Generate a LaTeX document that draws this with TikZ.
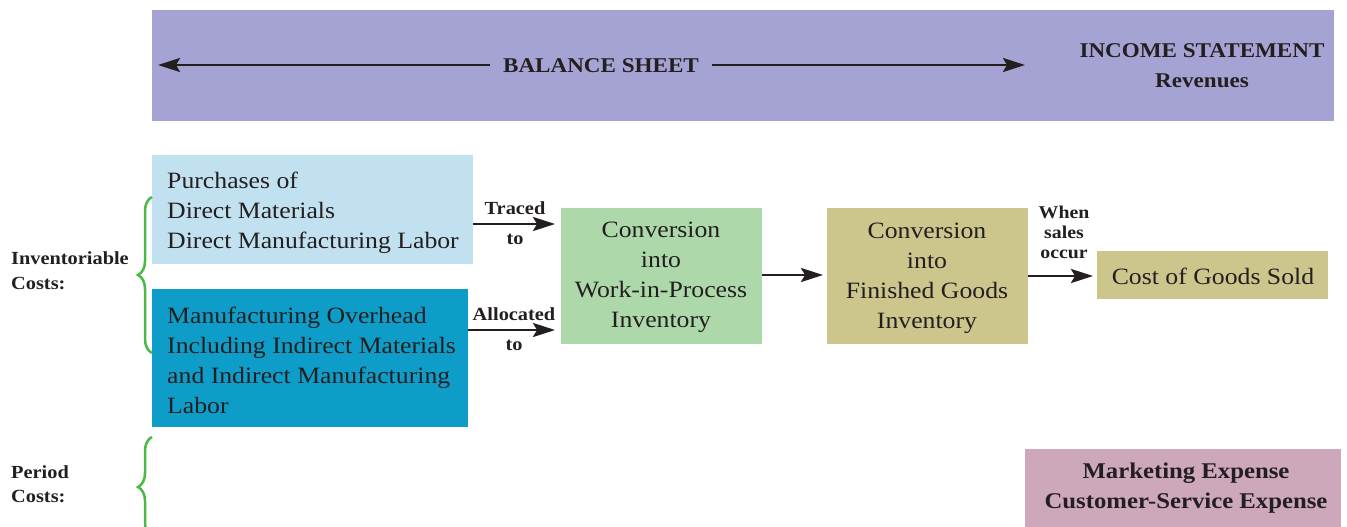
\documentclass[tikz,border=0pt]{standalone}
\usepackage{fontspec}
\setmainfont{Liberation Serif}[FakeStretch=1.1]
\usetikzlibrary{arrows.meta,decorations.pathreplacing}
\definecolor{banner}{HTML}{A5A3D3}
\definecolor{lblue}{HTML}{C2E1F0}
\definecolor{dblue}{HTML}{0E9DC8}
\definecolor{lgreen}{HTML}{ADD8A9}
\definecolor{khaki}{HTML}{CCC68C}
\definecolor{mauve}{HTML}{CDA8BB}
\definecolor{ink}{HTML}{231F20}
\definecolor{bracegreen}{HTML}{4CB848}
\tikzset{
  big/.style={font=\fontsize{23.4}{30}\selectfont,text=ink},
  head/.style={font=\fontsize{21}{30}\selectfont\bfseries,text=ink},
  lbl/.style={font=\fontsize{18.5}{20}\selectfont\bfseries,text=ink},
  side/.style={font=\fontsize{18.5}{25}\selectfont\bfseries,text=ink,align=left,anchor=west,inner sep=0pt},
  conn/.style={line width=2.6pt,draw=ink,-{Stealth[length=22pt,width=14pt,inset=4pt]}},
  brc/.style={draw=bracegreen,line width=2.5pt,decorate,decoration={brace,amplitude=14pt}}
}
\begin{document}
\begin{tikzpicture}[x=1pt,y=-1pt]
\useasboundingbox (0,0) rectangle (1347,527);
% banner
\fill[banner] (152,10) rectangle (1334,121);
\node[head] (bs) at (601,66) {BALANCE SHEET};
\coordinate (bsl) at (158,65);
\coordinate (bsr) at (1025,65);
\draw[conn] (bs.west) ++(-10,-1) -- (bsl);
\draw[conn] (bs.east) ++(10,-1) -- (bsr);
\node[head,align=center] (is) at (1202,66) {INCOME STATEMENT\\Revenues};
% boxes
\fill[lblue] (152,155) rectangle (473,264);
\node[big,align=left,anchor=west,inner sep=0pt] (pur) at (167,213) {Purchases of\\Direct Materials\\Direct Manufacturing Labor};
\coordinate (purE) at (473,224);
\fill[dblue] (152,289) rectangle (468,427);
\node[big,align=left,anchor=west,inner sep=0pt] (moh) at (167,360) {Manufacturing Overhead\\Including Indirect Materials\\and Indirect Manufacturing\\Labor};
\coordinate (mohE) at (468,330);
\fill[lgreen] (561,208) rectangle (762,344);
\node[big,align=center] (wip) at (661,277) {Conversion\\into\\Work-in-Process\\Inventory};
\fill[khaki] (827,208) rectangle (1028,344);
\node[big,align=center] (fg) at (927,278) {Conversion\\into\\Finished Goods\\Inventory};
\fill[khaki] (1097,251) rectangle (1328,299);
\node[big] (cogs) at (1213,276) {Cost of Goods Sold};
\fill[mauve] (1025,449) rectangle (1341,527);
\node[head,font=\fontsize{22.5}{30}\selectfont\bfseries,align=center] (mkt) at (1186,488) {Marketing Expense\\Customer-Service Expense};
% connectors
\draw[conn] (purE) -- (555,224);
\node[lbl] (tr1) at (515,208) {Traced};
\node[lbl] (tr2) at (515,239) {to};
\draw[conn] (mohE) -- (555,330);
\node[lbl] (al1) at (514,314) {Allocated};
\node[lbl] (al2) at (514,345) {to};
\draw[conn] (762,275) -- (823,275);
\draw[conn] (1028,276) -- (1093,276);
\node[lbl,align=center,font=\fontsize{18}{20}\selectfont\bfseries] (wso) at (1064,232) {When\\sales\\occur};
% braces
\draw[brc] (152,353) -- (152,197);
\draw[brc] (152,537) -- (152,437);
\node[side] (inv) at (11,271) {Inventoriable\\Costs:};
\node[side,font=\fontsize{18.5}{24}\selectfont\bfseries] (per) at (11,484) {Period\\Costs:};
\end{tikzpicture}
\end{document}
